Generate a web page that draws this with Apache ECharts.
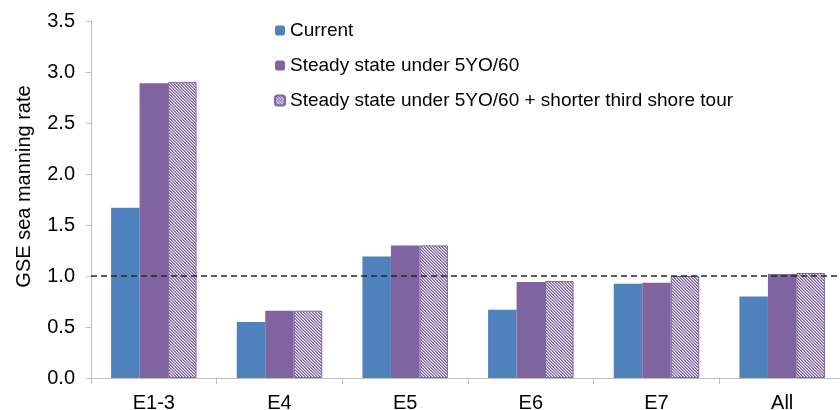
<!DOCTYPE html>
<html>
<head>
  <meta charset="utf-8">
</head>
<body style="margin: 0">
  <div id="container" style="width: 840px; height: 410px"></div>
  <script src="https://cdn.jsdelivr.net/npm/echarts@6/dist/echarts.min.js"></script>
  <script>
    var categories = ['E1-3', 'E4', 'E5', 'E6', 'E7', 'All'];
    var current = [1.67, 0.55, 1.19, 0.67, 0.925, 0.80];
    var steadyState = [2.89, 0.66, 1.30, 0.94, 0.935, 1.02];
    var shorterTour = [2.90, 0.66, 1.30, 0.95, 1.00, 1.03];
    var threshold = 1.0;

    // diagonal hatch for the third series
    function hatch() {
      var c = document.createElement('canvas');
      c.width = 3;
      c.height = 3;
      var ctx = c.getContext('2d');
      var cols = ['#8064A2', '#ab98c6', '#f4f0f8'];
      for (var x = 0; x < 3; x++) {
        for (var y = 0; y < 3; y++) {
          ctx.fillStyle = cols[(x - y + 3) % 3];
          ctx.fillRect(x, y, 1, 1);
        }
      }
      return { image: c, repeat: 'repeat' };
    }

    var font = 'Liberation Sans, Arial, sans-serif';
    var chart = echarts.init(document.getElementById('container'), null, { renderer: 'canvas' });

    var option = {
      animation: false,
      textStyle: { fontFamily: font },
      grid: { left: 91, right: -5, top: 21, bottom: 32, containLabel: false, outerBoundsMode: 'none' },
      legend: {
        orient: 'vertical',
        left: 274,
        top: 21,
        padding: 0,
        itemWidth: 10,
        itemHeight: 10,
        itemGap: 16,
        textStyle: { fontSize: 19, lineHeight: 19, color: '#000', fontFamily: font },
        data: ['Current', 'Steady state under 5YO/60', 'Steady state under 5YO/60 + shorter third shore tour']
      },
      xAxis: {
        type: 'category',
        data: categories,
        axisLine: { lineStyle: { color: '#bfbfbf', width: 1 } },
        axisTick: { show: true, length: 6, lineStyle: { color: '#bfbfbf' } },
        axisLabel: { fontSize: 20, color: '#000', margin: 15, fontFamily: font }
      },
      yAxis: {
        type: 'value',
        min: 0,
        max: 3.5,
        interval: 0.5,
        name: 'GSE sea manning rate',
        nameLocation: 'middle',
        nameGap: 57,
        nameTextStyle: { fontSize: 20, color: '#000', fontFamily: font, padding: [0, 0, 0, 26] },
        axisLine: { show: true, lineStyle: { color: '#bfbfbf', width: 1 } },
        axisTick: { show: true, length: 5, lineStyle: { color: '#bfbfbf' } },
        axisLabel: {
          fontSize: 20, color: '#000', margin: 16, fontFamily: font,
          formatter: function (v) { return v.toFixed(1); }
        },
        splitLine: { show: false }
      },
      series: [
        {
          name: 'Current',
          type: 'bar',
          data: current,
          barGap: '0%',
          barCategoryGap: '32%',
          itemStyle: { color: '#4F81BD' }
        },
        {
          name: 'Steady state under 5YO/60',
          type: 'bar',
          data: steadyState,
          itemStyle: { color: '#8064A2' }
        },
        {
          name: 'Steady state under 5YO/60 + shorter third shore tour',
          type: 'bar',
          data: shorterTour,
          itemStyle: { color: hatch(), borderColor: '#8064A2', borderWidth: 1 },
          markLine: {
            silent: true,
            symbol: 'none',
            label: { show: false },
            lineStyle: { color: '#262626', type: [6, 4], width: 1.5 },
            data: [{ yAxis: threshold }]
          }
        }
      ]
    };

    chart.setOption(option);
    window.addEventListener('resize', chart.resize);
  </script>
</body>
</html>
